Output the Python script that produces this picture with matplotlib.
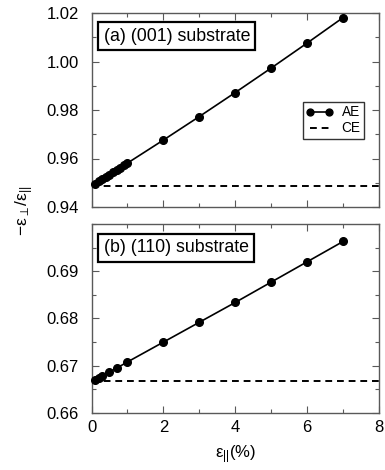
import matplotlib
matplotlib.use("Agg")
import matplotlib.pyplot as plt
from matplotlib.ticker import MultipleLocator, FixedLocator

plt.rcParams['font.family'] = ['Liberation Sans', 'DejaVu Sans']
plt.rcParams['mathtext.fontset'] = 'custom'
plt.rcParams['mathtext.rm'] = 'Liberation Sans'
plt.rcParams['mathtext.it'] = 'Liberation Sans'
plt.rcParams['mathtext.sf'] = 'Liberation Sans'

# Data
x_a = [0.1, 0.2, 0.3, 0.4, 0.5, 0.6, 0.7, 0.8, 0.9, 1.0, 2, 3, 4, 5, 6, 7]
ae_a = [0.9496, 0.9506, 0.9515, 0.9525, 0.9534, 0.9543, 0.9553, 0.9562,
        0.9572, 0.9581, 0.9676, 0.9773, 0.9872, 0.9973, 1.0076, 1.0181]
ce_a = 0.9487

x_b = [0.1, 0.2, 0.3, 0.5, 0.7, 1.0, 2, 3, 4, 5, 6, 7]
ae_b = [0.6670, 0.6674, 0.6678, 0.6687, 0.6695, 0.6708, 0.6750, 0.6792,
        0.6834, 0.6877, 0.6920, 0.6963]
ce_b = 0.6667

labels = ["(a) (001) substrate", "(b) (110) substrate"]
yticks_a = [0.94, 0.96, 0.98, 1.00, 1.02]
yticks_b = [0.66, 0.67, 0.68, 0.69]

W, H = 385, 470
fig = plt.figure(figsize=(W / 100, H / 100), dpi=100)
ax1 = fig.add_axes([91.5 / W, 1 - 207 / H, (379 - 91.5) / W, (207 - 13) / H])
ax2 = fig.add_axes([91.5 / W, 1 - 413 / H, (379 - 91.5) / W, (413 - 224) / H])

for ax, x, y, ce, lab, ylim, yt, mnr, ty in [
        (ax1, x_a, ae_a, ce_a, labels[0], (0.94, 1.02), yticks_a, 0.01, 0.924),
        (ax2, x_b, ae_b, ce_b, labels[1], (0.66, 0.70), yticks_b, 0.005, 0.918)]:
    ax.plot(x, y, '-o', color='black', lw=1.2, ms=5.5, label='AE', clip_on=False, zorder=3)
    ax.axhline(ce, color='black', lw=1.4, ls=(0, (3.5, 2.5)), label='CE')
    ax.set_xlim(0, 8)
    ax.set_ylim(*ylim)
    ax.xaxis.set_major_locator(MultipleLocator(2))
    ax.xaxis.set_minor_locator(MultipleLocator(1))
    ax.yaxis.set_major_locator(FixedLocator(yt))
    ax.yaxis.set_minor_locator(MultipleLocator(mnr))
    ax.tick_params(which='both', direction='in', top=True, right=True,
                   color='0.35', labelsize=12)
    ax.tick_params(which='major', length=5, width=0.8)
    ax.tick_params(which='minor', length=3, width=0.8)
    ax.tick_params(axis='y', pad=9)
    ax.tick_params(axis='x', pad=5)
    for s in ax.spines.values():
        s.set_color('0.35')
        s.set_linewidth(1.0)
    ax.text(0.042, ty, lab, transform=ax.transAxes, fontsize=12.8,
            ha='left', va='top',
            bbox=dict(boxstyle='square,pad=0.3', fc='white', ec='black', lw=1.6))

ax1.yaxis.set_major_formatter(plt.FormatStrFormatter('%.2f'))
ax2.yaxis.set_major_formatter(plt.FormatStrFormatter('%.2f'))
ax1.tick_params(labelbottom=False)

leg = ax1.legend(loc='upper right', bbox_to_anchor=(0.948, 0.541), numpoints=2,
                 handlelength=2.0, handletextpad=0.6, fontsize=9.8, frameon=True,
                 fancybox=False, edgecolor='black', borderpad=0.25, labelspacing=0.15,
                 borderaxespad=0.0, markerscale=0.9)
leg.get_frame().set_linewidth(1.0)

ax2.set_xlabel(r'$\mathrm{\varepsilon}_{||}$(%)', fontsize=12, labelpad=6)
fig.text(25 / W, 1 - 211 / H, r'$-\mathrm{\varepsilon}_{\perp}/\mathrm{\varepsilon}_{||}$',
         rotation=90, ha='center', va='center', fontsize=12.5)

fig.savefig('out.png', dpi=100)
